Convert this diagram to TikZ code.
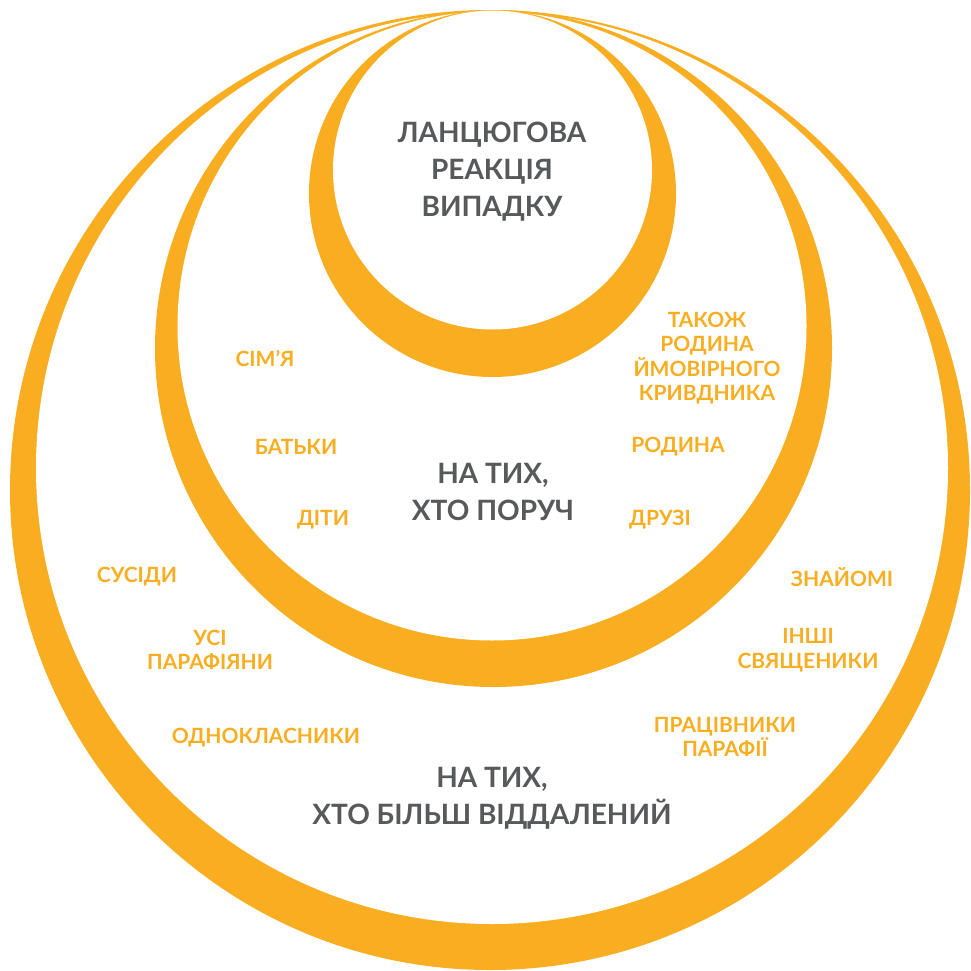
\documentclass[tikz,border=0pt]{standalone}
\usepackage{fontspec}
\setmainfont{Lato}
\definecolor{ringor}{HTML}{F8AE20}
\definecolor{txtgray}{HTML}{58595B}
\begin{document}
\begin{tikzpicture}[x=1pt,y=-1pt,
  ring/.style={fill=ringor,draw=none},
  hole/.style={fill=white,draw=none},
  big/.style={text=txtgray,font=\fontsize{28}{37}\selectfont\bfseries,align=center,inner sep=0pt},
  lbl/.style={text=ringor,font=\fontsize{21}{24.5}\selectfont\bfseries,align=center,inner sep=0pt}]
\useasboundingbox[fill=white] (0,0) rectangle (970,971);
% outer ring
\fill[ring] (490,490) circle (480);
\fill[hole] (492,468) circle (456);
% middle ring
\fill[ring] (493.5,348.5) circle (338.5);
\fill[hole] (492,326) circle (314.5);
% inner ring
\fill[ring] (492.5,193.5) circle (183.5);
\fill[hole] (492.5,170) circle (159.5);
% texts
\node[big] (core) at (492,172) {ЛАНЦЮГОВА\\РЕАКЦІЯ\\ВИПАДКУ};
\node[big] (near) at (493,492) {НА ТИХ,\\ХТО ПОРУЧ};
\node[big] (far) at (492,798) {НА ТИХ,\\ХТО БІЛЬШ ВІДДАЛЕНИЙ};
\node[lbl] (simya) at (265,358) {СІМ’Я};
\node[lbl] (batky) at (296,447) {БАТЬКИ};
\node[lbl] (dity) at (323,520) {ДІТИ};
\node[lbl] (takozh) at (707,358) {ТАКОЖ\\РОДИНА\\ЙМОВІРНОГО\\КРИВДНИКА};
\node[lbl] (rodyna) at (678,447) {РОДИНА};
\node[lbl] (druzi) at (660,520) {ДРУЗІ};
\node[lbl] (susidy) at (137,577) {СУСІДИ};
\node[lbl] (parafiyany) at (210,650) {УСІ\\ПАРАФІЯНИ};
\node[lbl] (odnokl) at (266,738) {ОДНОКЛАСНИКИ};
\node[lbl] (znayomi) at (842,577) {ЗНАЙОМІ};
\node[lbl] (svyasch) at (808,650) {ІНШІ\\СВЯЩЕНИКИ};
\node[lbl] (pratsivn) at (725,737) {ПРАЦІВНИКИ\\ПАРАФІЇ};
\end{tikzpicture}
\end{document}
